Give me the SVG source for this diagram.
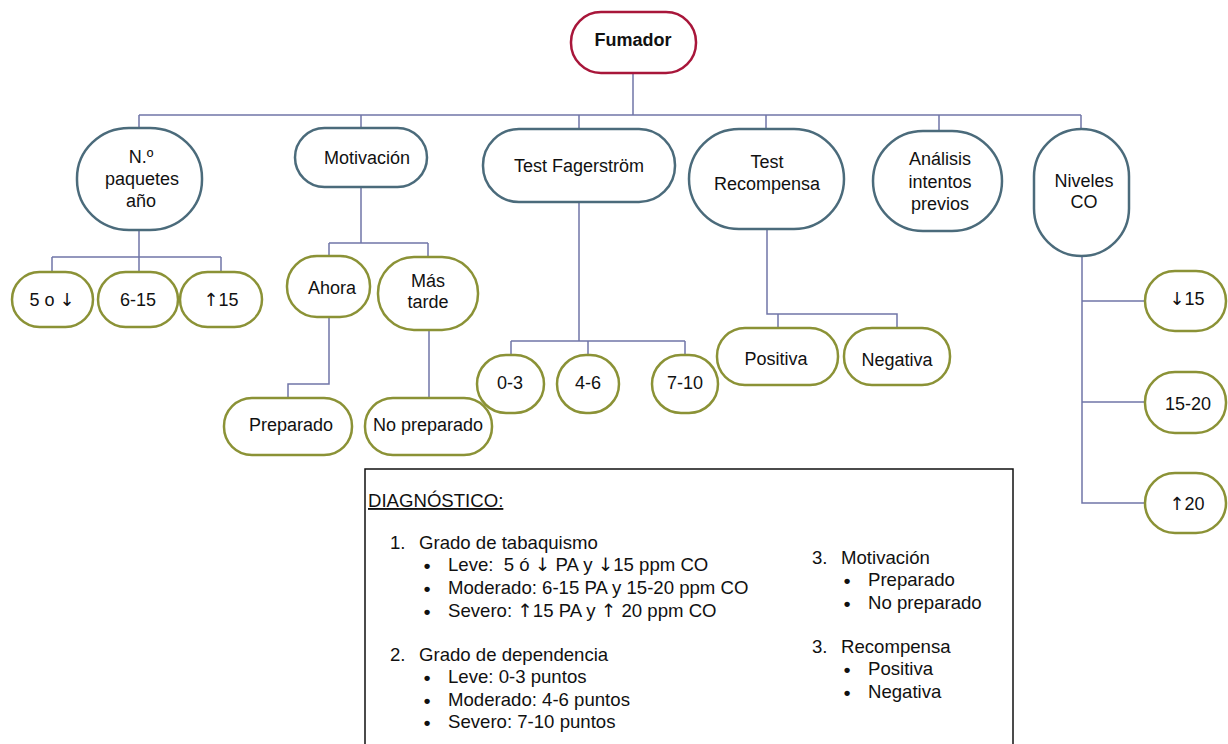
<svg xmlns="http://www.w3.org/2000/svg" width="1228" height="744" viewBox="0 0 1228 744">
<style>
text{font-family:"Liberation Sans",Arial,Helvetica,sans-serif;fill:#111;}
.t{font-size:18px;text-anchor:middle;}
.b{font-weight:bold;}
.a{font-family:"DejaVu Sans",sans-serif;fill:#111;font-weight:normal;}
.top{fill:#fff;stroke:#a8163a;stroke-width:2.5;}
.main{fill:#fff;stroke:#4b6b7b;stroke-width:2.5;}
.leaf{fill:#fff;stroke:#8b9236;stroke-width:2.5;}
.conn path{fill:none;stroke:#7075a8;stroke-width:1.5;}
.d{font-size:18.6px;}
.bu{font-size:19px;font-weight:bold;text-anchor:middle;}
</style>
<rect width="1228" height="744" fill="#fff"/>
<g class="conn" id="connectors">
<path d="M633 73V115M139 115H1081M139 115V128M361 115V128M579 115V129M766 115V129M939 115V131M1081 115V129"/>
<path d="M139 230V257M52 257H221M52 257V272M139 257V272M221 257V272"/>
<path d="M361 187V243M329 243H428M329 243V256M428 243V257"/>
<path d="M329 317V384H288V398M429 330V398"/>
<path d="M579 202V341M511 341H685M511 341V355M588 341V355M685 341V355"/>
<path d="M767 229V314H897V328M778 314V328"/>
<path d="M1082 256V503H1145M1082 301H1145M1082 402H1145"/>
</g>
<g id="fumador"><rect class="top" x="571" y="12" width="125" height="61" rx="30"/><text class="t b" x="633" y="46">Fumador</text></g>
<g id="paquetes"><rect class="main" x="77" y="128" width="125" height="102" rx="52" ry="50"/><text class="t" x="141" y="163">N.º</text><text class="t" x="142" y="185">paquetes</text><text class="t" x="141" y="207">año</text></g>
<g id="motivacion"><rect class="main" x="295" y="128" width="132" height="59" rx="29.5"/><text class="t" x="367" y="164">Motivación</text></g>
<g id="fagerstrom"><rect class="main" x="483" y="129" width="192" height="73" rx="36"/><text class="t" x="579" y="172">Test Fagerström</text></g>
<g id="recompensa"><rect class="main" x="689" y="129" width="155" height="100" rx="50"/><text class="t" x="767" y="168">Test</text><text class="t" x="767" y="190">Recompensa</text></g>
<g id="analisis"><rect class="main" x="873" y="131" width="129" height="100" rx="50"/><text class="t" x="940" y="165">Análisis</text><text class="t" x="940" y="188">intentos</text><text class="t" x="940" y="210">previos</text></g>
<g id="niveles"><rect class="main" x="1034" y="129" width="95" height="127" rx="47.5"/><text class="t" x="1084" y="187">Niveles</text><text class="t" x="1084" y="208">CO</text></g>
<g id="p5"><rect class="leaf" x="12" y="272" width="81" height="55" rx="27.5"/><text class="t" x="52" y="306">5 o <tspan class="a">↓</tspan></text></g>
<g id="p6"><rect class="leaf" x="98" y="272" width="80" height="55" rx="27.5"/><text class="t" x="138" y="306">6-15</text></g>
<g id="p15"><rect class="leaf" x="180" y="272" width="82" height="55" rx="27.5"/><text class="t" x="221" y="306"><tspan class="a">↑</tspan>15</text></g>
<g id="ahora"><rect class="leaf" x="287" y="256" width="83" height="61" rx="30"/><text class="t" x="332" y="294">Ahora</text></g>
<g id="mastarde"><rect class="leaf" x="378" y="257" width="100" height="73" rx="36"/><text class="t" x="428" y="287">Más</text><text class="t" x="428" y="308">tarde</text></g>
<g id="preparado"><rect class="leaf" x="224" y="398" width="128" height="57" rx="28"/><text class="t" x="291" y="431">Preparado</text></g>
<g id="nopreparado"><rect class="leaf" x="365" y="398" width="127" height="57" rx="28"/><text class="t" x="428" y="431">No preparado</text></g>
<g id="f03"><rect class="leaf" x="477" y="355" width="67" height="58" rx="29"/><text class="t" x="510" y="389">0-3</text></g>
<g id="f46"><rect class="leaf" x="557" y="355" width="62" height="58" rx="29"/><text class="t" x="588" y="389">4-6</text></g>
<g id="f710"><rect class="leaf" x="652" y="355" width="66" height="58" rx="29"/><text class="t" x="685" y="389">7-10</text></g>
<g id="positiva"><rect class="leaf" x="717" y="328" width="121" height="57" rx="28"/><text class="t" x="776" y="365">Positiva</text></g>
<g id="negativa"><rect class="leaf" x="844" y="328" width="106" height="57" rx="28"/><text class="t" x="897" y="366">Negativa</text></g>
<g id="co15"><rect class="leaf" x="1145" y="271" width="81" height="60" rx="30"/><text class="t" x="1187" y="305"><tspan class="a">↓</tspan>15</text></g>
<g id="co1520"><rect class="leaf" x="1145" y="372" width="81" height="61" rx="30"/><text class="t" x="1188" y="410">15-20</text></g>
<g id="co20"><rect class="leaf" x="1145" y="473" width="81" height="60" rx="30"/><text class="t" x="1187" y="510"><tspan class="a">↑</tspan>20</text></g>
<g id="diagnostico">
<rect x="365" y="469" width="648" height="290" fill="#fff" stroke="#111" stroke-width="1.5"/>
<text class="d" x="368" y="507" text-decoration="underline">DIAGNÓSTICO:</text>
<text class="d" x="390" y="549">1.</text><text class="d" x="419" y="549">Grado de tabaquismo</text>
<text class="bu" x="427" y="572">•</text><text class="d" x="448" y="571" xml:space="preserve">Leve:  5 ó <tspan class="a">↓</tspan> PA y <tspan class="a">↓</tspan>15 ppm CO</text>
<text class="bu" x="427" y="595">•</text><text class="d" x="448" y="594">Moderado: 6-15 PA y 15-20 ppm CO</text>
<text class="bu" x="427" y="618">•</text><text class="d" x="448" y="617" xml:space="preserve">Severo: <tspan class="a">↑</tspan>15 PA y <tspan class="a">↑</tspan> 20 ppm CO</text>
<text class="d" x="390" y="661">2.</text><text class="d" x="419" y="661">Grado de dependencia</text>
<text class="bu" x="427" y="684">•</text><text class="d" x="448" y="683">Leve: 0-3 puntos</text>
<text class="bu" x="427" y="707">•</text><text class="d" x="448" y="706">Moderado: 4-6 puntos</text>
<text class="bu" x="427" y="729">•</text><text class="d" x="448" y="728">Severo: 7-10 puntos</text>
<text class="d" x="812" y="564">3.</text><text class="d" x="841" y="564">Motivación</text>
<text class="bu" x="847" y="587">•</text><text class="d" x="868" y="586">Preparado</text>
<text class="bu" x="847" y="610">•</text><text class="d" x="868" y="609">No preparado</text>
<text class="d" x="812" y="653">3.</text><text class="d" x="841" y="653">Recompensa</text>
<text class="bu" x="847" y="676">•</text><text class="d" x="868" y="675">Positiva</text>
<text class="bu" x="847" y="699">•</text><text class="d" x="868" y="698">Negativa</text>
</g>
</svg>
